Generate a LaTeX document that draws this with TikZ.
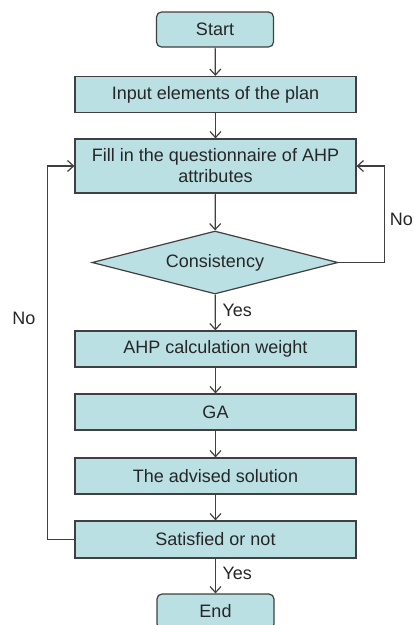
\documentclass[tikz,border=0pt]{standalone}
\usepackage{fontspec}
\setmainfont{Liberation Sans}
\usepackage{tikz}
\usetikzlibrary{shapes.geometric, arrows.meta}
\definecolor{BoxFill}{RGB}{186,224,227}
\definecolor{LineGray}{RGB}{64,64,64}

\begin{document}
\begin{tikzpicture}[x=1pt, y=-1pt,
	font=\fontsize{18}{21}\selectfont,
	box/.style={draw=LineGray, fill=BoxFill, line width=1.2pt, minimum width=281pt, minimum height=36pt, inner sep=0pt, text=black!85},
	term/.style={box, rounded corners=5pt, minimum width=117pt, minimum height=35pt},
	test/.style={draw=LineGray, fill=BoxFill, line width=1.2pt, diamond, aspect=3.9, inner sep=0pt, minimum width=246pt, minimum height=63pt, text=black!85},
	flow/.style={draw=LineGray, line width=1.2pt, -{Straight Barb[length=6pt, width=11pt, line width=1.2pt]}}]

	\useasboundingbox (0,0) rectangle (414,625);

	\node[term] (start) at (215,29.5) {Start};
	\node[box] (input) at (215.5,94.5) {Input elements of the plan};
	\node[box, minimum height=54pt, align=center] (fill) at (215.5,166) {Fill in the questionnaire of AHP\\attributes};
	\node[test] (cons) at (215,262.5) {Consistency};
	\node[box] (ahp) at (215.5,349) {AHP calculation weight};
	\node[box] (ga) at (215.5,412) {GA};
	\node[box] (adv) at (215.5,476) {The advised solution};
	\node[box, minimum height=37pt] (sat) at (215.5,539.5) {Satisfied or not};
	\node[term] (end) at (215.5,611.5) {End};

	\draw[flow] (start) -- (input);
	\draw[flow] (input) -- (fill);
	\draw[flow] (fill) -- (cons);
	\draw[flow] (cons) -- (ahp);
	\draw[flow] (ahp) -- (ga);
	\draw[flow] (ga) -- (adv);
	\draw[flow] (adv) -- (sat);
	\draw[flow] (sat) -- (end);

	% the two loops back to the questionnaire
	\draw[flow] (cons.east) -- ++(46,0) |- (fill.east);
	\draw[flow] (sat.west) -- ++(-27,0) |- (fill.west);

	\node[anchor=east, inner sep=1pt, text=black!85] (noright) at (414,219) {No};
	\node[text=black!85] (noleft) at (24,318) {No};
	\node[anchor=west, text=black!85] (yesone) at (219,310) {Yes};
	\node[anchor=west, text=black!85] (yestwo) at (219,573) {Yes};

\end{tikzpicture}
\end{document}
